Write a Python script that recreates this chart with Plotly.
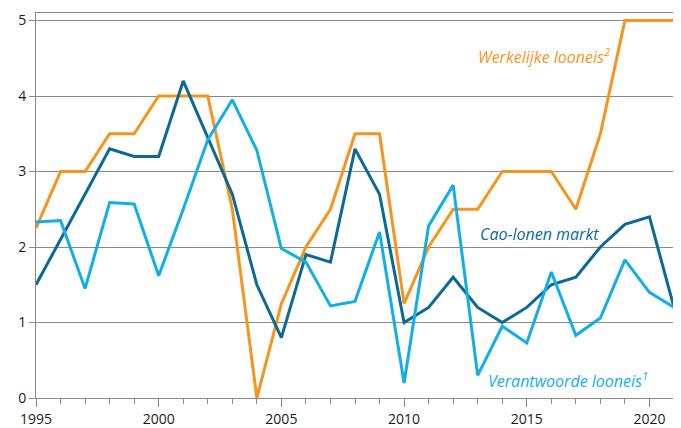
import plotly.graph_objects as go

years = list(range(1995, 2022))

werkelijke = [2.25, 3, 3, 3.5, 3.5, 4, 4, 4, 2.5, 0, 1.25, 2, 2.5, 3.5, 3.5,
              1.25, 2, 2.5, 2.5, 3, 3, 3, 2.5, 3.5, 5, 5, 5]
cao_markt = [1.5, 2.1, 2.7, 3.3, 3.2, 3.2, 4.2, 3.45, 2.7, 1.5, 0.8, 1.9, 1.8,
             3.3, 2.7, 1.0, 1.2, 1.6, 1.2, 1.0, 1.2, 1.5, 1.6, 2.0, 2.3, 2.4, 1.2]
verantwoorde = [2.33, 2.35, 1.45, 2.59, 2.57, 1.62, 2.5, 3.42, 3.95, 3.28, 1.98,
                1.8, 1.22, 1.28, 2.2, 0.2, 2.28, 2.82, 0.3, 0.95, 0.73, 1.67,
                0.83, 1.06, 1.83, 1.4, 1.2]

orange = '#F7941D'
dark_blue = '#0B6A95'
light_blue = '#12AEE8'
grid = '#8a8a8a'

fig = go.Figure()
fig.add_trace(go.Scatter(x=years, y=werkelijke, mode='lines',
                         line=dict(color=orange, width=3)))
fig.add_trace(go.Scatter(x=years, y=cao_markt, mode='lines',
                         line=dict(color=dark_blue, width=3)))
fig.add_trace(go.Scatter(x=years, y=verantwoorde, mode='lines',
                         line=dict(color=light_blue, width=3)))

labels = [
    (2018.47, 4.53, 'Werkelijke looneis<sup>2</sup>', orange, 'right'),
    (2018.02, 2.17, 'Cao-lonen markt', dark_blue, 'right'),
    (2013.34, 0.24, 'Verantwoorde looneis<sup>1</sup>', light_blue, 'left'),
]
for x, y, text, color, anchor in labels:
    fig.add_annotation(x=x, y=y, text=text, showarrow=False, xanchor=anchor,
                       font=dict(family='Open Sans', size=16, color=color,
                                 style='italic'))

# page body has an 8px margin, so the figure is sized to fit the window
fig.update_layout(
    width=673, height=420,
    margin=dict(l=28, r=7, t=5, b=30),
    plot_bgcolor='white', paper_bgcolor='white',
    showlegend=False,
    font=dict(family='Open Sans', size=14, color='#1a1a1a'),
)
fig.update_xaxes(
    range=[1995, 2021],
    tick0=1995, dtick=5,
    ticks='outside', ticklen=8, tickcolor=grid,
    minor=dict(tick0=1995, dtick=1, ticks='outside', ticklen=5,
               tickcolor=grid, showgrid=False),
    showgrid=False, showline=True, linecolor=grid, linewidth=1,
    mirror=True, zeroline=False, automargin=False,
)
fig.update_yaxes(
    range=[0, 5.1],
    tickvals=[0, 1, 2, 3, 4, 5],
    ticks='outside', ticklen=6, tickcolor=grid,
    showgrid=True, gridcolor=grid, gridwidth=1,
    showline=True, linecolor=grid, linewidth=1, mirror=True,
    zeroline=False, automargin=False,
)

fig.write_html("out.html")
